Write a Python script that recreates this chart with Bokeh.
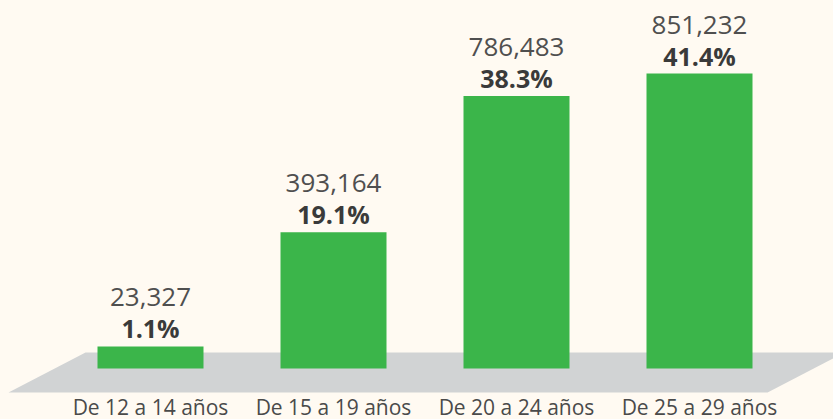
from bokeh.plotting import figure
from bokeh.models import Range1d, ColumnDataSource
from bokeh.core.properties import value
from bokeh.embed import file_html
from bokeh.resources import INLINE

categories = ["De 12 a 14 años", "De 15 a 19 años", "De 20 a 24 años", "De 25 a 29 años"]
counts = [23327, 393164, 786483, 851232]
count_labels = ["23,327", "393,164", "786,483", "851,232"]
pct_labels = ["1.1%", "19.1%", "38.3%", "41.4%"]

BG = "#FFFAF2"
GREEN = "#3BB54A"
FLOOR = "#D1D3D4"

W, H = 833, 419
vmax = max(counts)
k = 295.0 / vmax  # px per unit

xs = list(range(len(categories)))
# visible minimum height for tiny bars
tops = [max(v, 0.075 * vmax) for v in counts]

p = figure(width=W, height=H, output_backend="svg", toolbar_location=None,
           x_range=Range1d(-150 / 183, (W - 150) / 183),
           y_range=Range1d(-(H - 368) / k, 368 / k),
           min_border=0, background_fill_color=BG, border_fill_color=BG,
           outline_line_color=None)
p.axis.visible = False
p.grid.visible = False

# floor parallelogram (decoration)
n = len(categories) - 1
fy_top, fy_bot = 16 / k, -24 / k
p.patch([0 - 0.776, 0 - 0.355, n + 0.792, n + 0.372],
        [fy_bot, fy_top, fy_top, fy_bot], color=FLOOR, line_color=None)

src = ColumnDataSource(dict(x=xs, top=tops, cnt=count_labels, pct=pct_labels,
                            cat=categories, zero=[0] * len(xs)))
p.vbar(x="x", top="top", bottom=0, width=106 / 183, source=src,
       color=GREEN, line_color=None)

p.text(x="x", y="top", text="cnt", source=src, y_offset=-49,
       text_align="center", text_baseline="alphabetic",
       text_font=value("Open Sans"), text_font_size="26px", text_color="#4f4f4f")
p.text(x="x", y="top", text="pct", source=src, y_offset=-18,
       text_align="center", text_baseline="alphabetic",
       text_font=value("Open Sans"), text_font_style="bold",
       text_font_size="25px", text_color="#3a3a3a")
p.text(x="x", y="zero", text="cat", source=src, y_offset=38,
       text_align="center", text_baseline="alphabetic",
       text_font=value("Open Sans"), text_font_size="21px", text_color="#4a4a4a")

html = file_html(p, INLINE)
html = html.replace("<head>", "<head><style>html,body{margin:0;padding:0;background:%s;overflow:hidden}</style>" % BG, 1)
open("out.html", "w").write(html)
